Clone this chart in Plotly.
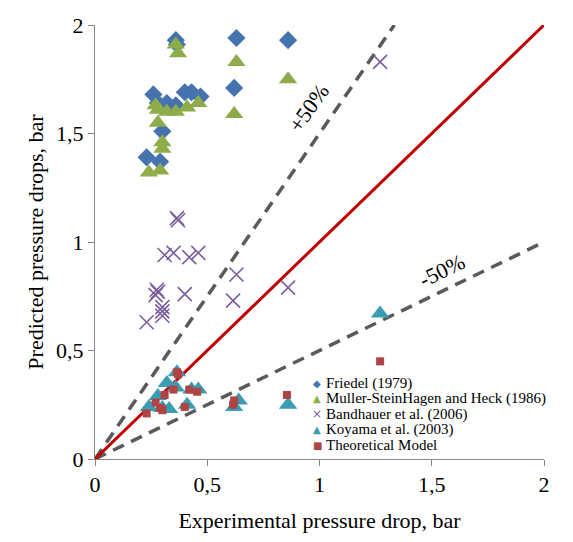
import plotly.graph_objects as go

# Friedel (1979)
fr_x = [0.36, 0.63, 0.86, 0.62, 0.26, 0.28, 0.32, 0.36, 0.40, 0.43, 0.47, 0.30, 0.23, 0.29, 0.365]
fr_y = [1.93, 1.94, 1.93, 1.71, 1.68, 1.64, 1.64, 1.63, 1.69, 1.69, 1.67, 1.51, 1.39, 1.37, 1.91]
# Muller-SteinHagen and Heck (1986)
ms_x = [0.36, 0.37, 0.63, 0.86, 0.62, 0.27, 0.32, 0.36, 0.28, 0.41, 0.46, 0.30, 0.30, 0.24, 0.29, 0.28]
ms_y = [1.91, 1.87, 1.83, 1.75, 1.59, 1.63, 1.60, 1.60, 1.55, 1.62, 1.64, 1.46, 1.43, 1.32, 1.33, 1.61]
# Bandhauer et al. (2006)
ba_x = [1.27, 0.365, 0.37, 0.31, 0.35, 0.42, 0.46, 0.275, 0.28, 0.27, 0.40, 0.30, 0.30, 0.30, 0.23, 0.63, 0.615, 0.86]
ba_y = [1.83, 1.11, 1.10, 0.94, 0.95, 0.93, 0.95, 0.78, 0.77, 0.755, 0.76, 0.70, 0.68, 0.66, 0.63, 0.85, 0.73, 0.79]
# Koyama et al. (2003)
ko_x = [1.27, 0.86, 0.62, 0.64, 0.365, 0.32, 0.36, 0.43, 0.46, 0.28, 0.24, 0.30, 0.41, 0.33]
ko_y = [0.67, 0.25, 0.24, 0.27, 0.40, 0.35, 0.33, 0.32, 0.32, 0.29, 0.24, 0.235, 0.25, 0.23]
# Theoretical Model
th_x = [1.27, 0.855, 0.62, 0.615, 0.365, 0.37, 0.31, 0.35, 0.42, 0.455, 0.27, 0.23, 0.29, 0.30, 0.40]
th_y = [0.45, 0.295, 0.27, 0.25, 0.40, 0.39, 0.295, 0.32, 0.32, 0.31, 0.26, 0.21, 0.235, 0.225, 0.24]

# reference lines
line_x = [0, 2]
line_y = [0, 2]
plus_x = [0, 2 / 1.5]
plus_y = [0, 2]
minus_x = [0, 2]
minus_y = [0, 1]

ticks = [0, 0.5, 1, 1.5, 2]
tick_text = ["0", "0,5", "1", "1,5", "2"]

series_names = ["Friedel (1979)", "Muller-SteinHagen and Heck (1986)", "Bandhauer et al. (2006)",
                "Koyama et al. (2003)", "Theoretical Model"]
series_colors = ["#4573AE", "#8EAD4A", "#7B5F9E", "#3A9DB2", "#B04444"]
legend_glyphs = ["◆", "▲", "×", "▲", "■"]

FONT = "Times New Roman, Liberation Serif, serif"

fig = go.Figure()
fig.add_trace(go.Scatter(x=plus_x, y=plus_y, mode="lines", showlegend=False,
                         line=dict(color="#5A5A5A", width=3.5, dash="12px,8px")))
fig.add_trace(go.Scatter(x=minus_x, y=minus_y, mode="lines", showlegend=False,
                         line=dict(color="#5A5A5A", width=3.5, dash="12px,8px")))
fig.add_trace(go.Scatter(x=line_x, y=line_y, mode="lines", showlegend=False,
                         line=dict(color="#C00000", width=3)))

fig.add_trace(go.Scatter(x=fr_x, y=fr_y, mode="markers", name=series_names[0], showlegend=False,
                         marker=dict(symbol="diamond", size=14, color=series_colors[0])))
fig.add_trace(go.Scatter(x=ms_x, y=ms_y, mode="markers", name=series_names[1], showlegend=False,
                         marker=dict(symbol="triangle-up", size=16, color=series_colors[1])))
fig.add_trace(go.Scatter(x=ba_x, y=ba_y, mode="markers", name=series_names[2], showlegend=False,
                         marker=dict(symbol="x-thin-open", size=14, color=series_colors[2],
                                     line=dict(width=1.6, color=series_colors[2]))))
fig.add_trace(go.Scatter(x=ko_x, y=ko_y, mode="markers", name=series_names[3], showlegend=False,
                         marker=dict(symbol="triangle-up", size=16, color=series_colors[3])))
fig.add_trace(go.Scatter(x=th_x, y=th_y, mode="markers", name=series_names[4], showlegend=False,
                         marker=dict(symbol="square", size=8, color=series_colors[4])))

fig.add_annotation(x=0.953, y=1.62, text="+50%", showarrow=False, textangle=-55,
                   font=dict(family=FONT, size=22, color="#000000"))
fig.add_annotation(x=1.546, y=0.87, text="-50%", showarrow=False, textangle=-26,
                   font=dict(family=FONT, size=22, color="#000000"))

# legend drawn as text rows (paper coordinates)
plot_top, plot_h = 25, 434
plot_left, plot_w = 95, 449
row_px = [383, 398.5, 414, 429.5, 445]
for name, col, glyph, ypx in zip(series_names, series_colors, legend_glyphs, row_px):
    yp = (plot_top + plot_h - ypx) / plot_h
    fig.add_annotation(xref="paper", yref="paper", x=(317 - plot_left) / plot_w, y=yp,
                       text=glyph, showarrow=False, xanchor="center", yanchor="middle",
                       font=dict(family="DejaVu Sans", size=10 if glyph != "×" else 12, color=col))
    fig.add_annotation(xref="paper", yref="paper", x=(324 - plot_left) / plot_w, y=yp,
                       text=name, showarrow=False, xanchor="left", yanchor="middle",
                       font=dict(family=FONT, size=15, color="#000000"))

axis_common = dict(range=[0, 2], tickvals=ticks, ticktext=tick_text, showgrid=False,
                   zeroline=False, showline=True, linecolor="#868686", linewidth=1,
                   ticks="outside", ticklen=6, tickcolor="#868686",
                   tickfont=dict(family=FONT, size=22, color="#000000"))

fig.update_layout(
    width=573, height=542,
    margin=dict(l=95, r=29, t=25, b=83),
    paper_bgcolor="white", plot_bgcolor="white",
    font=dict(family=FONT, color="#000000"),
    showlegend=False,
    xaxis=dict(**axis_common, title=dict(text="Experimental pressure drop, bar",
                                         font=dict(family=FONT, size=22), standoff=16)),
    yaxis=dict(**axis_common, title=dict(text="Predicted pressure drops, bar",
                                         font=dict(family=FONT, size=22), standoff=6)),
)

fig.write_html("out.html")
